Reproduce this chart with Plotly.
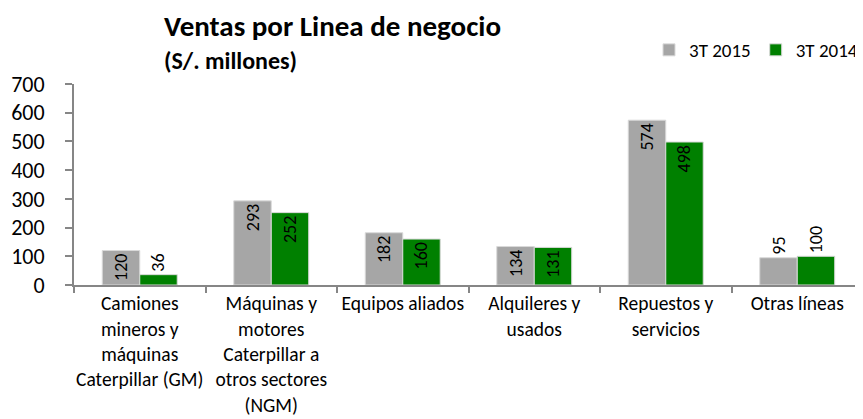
import plotly.graph_objects as go

categories = [
    "Camiones<br>mineros y<br>máquinas<br>Caterpillar (GM)",
    "Máquinas y<br>motores<br>Caterpillar a<br>otros sectores<br>(NGM)",
    "Equipos aliados",
    "Alquileres y<br>usados",
    "Repuestos y<br>servicios",
    "Otras líneas",
]
values_2015 = [120, 293, 182, 134, 574, 95]
values_2014 = [36, 252, 160, 131, 498, 100]
series_names = ["3T 2015", "3T 2014"]
y_ticks = [0, 100, 200, 300, 400, 500, 600, 700]

FONT = "Carlito, Calibri, Lato, sans-serif"

# the page body adds an 8px margin, so the figure is sized to fit the window
W, H = 855, 411
L, R, T, B = 66, 0, 76, 134
PW, PH = W - L - R, H - T - B


def px_x(px):
    return (px - L) / PW


def px_y(py):
    return 1 + (T - py) / PH


fig = go.Figure()
fig.add_trace(go.Bar(
    x=categories, y=values_2015, name=series_names[0],
    marker=dict(color="#A6A6A6", line=dict(color="#D9D9D9", width=1)),
    text=values_2015, textposition=["inside", "inside", "inside", "inside", "inside", "outside"],
    textangle=-90, insidetextanchor="end", constraintext="none",
    textfont=dict(size=18, color="black", family=FONT),
    cliponaxis=False,
))
fig.add_trace(go.Bar(
    x=categories, y=values_2014, name=series_names[1],
    marker=dict(color="#008000", line=dict(color="#D9D9D9", width=1)),
    text=values_2014, textposition=["outside", "inside", "inside", "inside", "inside", "outside"],
    textangle=-90, insidetextanchor="end", constraintext="none",
    textfont=dict(size=18, color="black", family=FONT),
    cliponaxis=False,
))

fig.update_layout(
    width=W, height=H,
    margin=dict(l=L, r=R, t=T, b=B, autoexpand=False),
    paper_bgcolor="white", plot_bgcolor="white",
    barmode="group", bargap=0.43, bargroupgap=0,
    font=dict(family=FONT, color="black"),
    showlegend=True,
    legend=dict(orientation="h", xref="container", yref="container",
                x=1.0, xanchor="right", y=1 - 42 / H, yanchor="middle",
                font=dict(size=19), traceorder="normal",
                bgcolor="rgba(0,0,0,0)"),
    annotations=[
        dict(text="<b>Ventas por Linea de negocio</b>", xref="paper", yref="paper",
             x=px_x(154), y=px_y(-2), xanchor="left", yanchor="top", showarrow=False,
             font=dict(size=29, family=FONT)),
        dict(text="<b>(S/. millones)</b>", xref="paper", yref="paper",
             x=px_x(154), y=px_y(52), xanchor="left", yanchor="middle", showarrow=False,
             font=dict(size=24, family=FONT)),
    ],
)
fig.update_yaxes(
    range=[0, 700], tickvals=y_ticks, showgrid=False, zeroline=False, automargin=False,
    showline=True, linecolor="#868686", linewidth=2,
    ticks="outside", ticklen=7, tickcolor="#868686", tickwidth=2,
    ticklabelstandoff=16,
    tickfont=dict(size=22, family=FONT),
)
fig.update_xaxes(
    showgrid=False, showline=True, linecolor="#868686", linewidth=2, automargin=False,
    ticks="outside", ticklen=6, tickcolor="#868686", tickwidth=2, tickson="boundaries",
    tickfont=dict(size=19.5, family=FONT), tickangle=0,
)

fig.write_html("out.html")
